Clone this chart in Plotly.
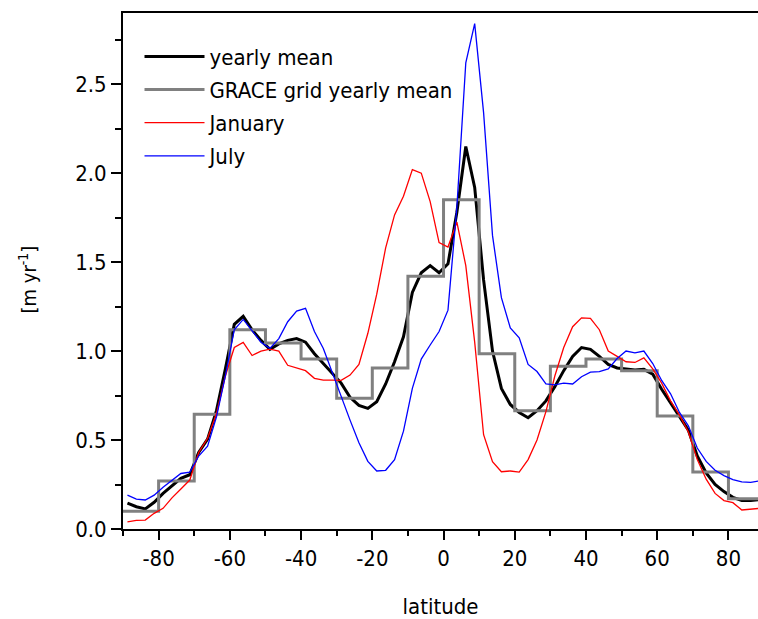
import numpy as np
import plotly.graph_objects as go

# Latitude bin centres (2.5 degree spacing)
latitude = [-88.75 + 2.5 * i for i in range(72)]

yearly_mean = [
    0.145, 0.125, 0.113, 0.15, 0.20, 0.245, 0.285, 0.305, 0.43, 0.505,
    0.665, 0.90, 1.15, 1.195, 1.12, 1.06, 1.01, 1.04, 1.06, 1.07,
    1.05, 0.985, 0.93, 0.87, 0.82, 0.74, 0.695, 0.678, 0.715, 0.815,
    0.94, 1.08, 1.33, 1.44, 1.48, 1.44, 1.49, 1.78, 2.15, 1.92,
    1.40, 1.00, 0.79, 0.70, 0.655, 0.625, 0.665, 0.72, 0.80, 0.89,
    0.97, 1.02, 1.01, 0.97, 0.925, 0.905, 0.90, 0.893, 0.897, 0.87,
    0.785, 0.71, 0.635, 0.555, 0.41, 0.315, 0.25, 0.21, 0.178, 0.16,
    0.16, 0.165,
]

january = [
    0.04, 0.048, 0.05, 0.088, 0.116, 0.175, 0.225, 0.275, 0.43, 0.51,
    0.65, 0.86, 1.02, 1.049, 0.975, 1.0, 1.011, 1.0, 0.92, 0.903,
    0.89, 0.847, 0.837, 0.837, 0.835, 0.865, 0.925, 1.10, 1.32, 1.58,
    1.765, 1.87, 2.02, 2.0, 1.84, 1.61, 1.585, 1.725, 1.48, 1.05,
    0.53, 0.378, 0.322, 0.326, 0.32, 0.39, 0.50, 0.66, 0.86, 1.02,
    1.137, 1.187, 1.184, 1.12, 1.0, 0.97, 0.94, 0.936, 0.962, 0.90,
    0.82, 0.72, 0.64, 0.545, 0.39, 0.28, 0.20, 0.16, 0.148, 0.107,
    0.11, 0.116,
]

july = [
    0.19, 0.168, 0.163, 0.19, 0.235, 0.275, 0.312, 0.32, 0.41, 0.465,
    0.63, 0.86, 1.12, 1.178, 1.115, 1.05, 1.015, 1.07, 1.165, 1.225,
    1.24, 1.11, 1.015, 0.88, 0.74, 0.612, 0.485, 0.38, 0.326, 0.33,
    0.39, 0.55, 0.79, 0.955, 1.034, 1.11, 1.23, 1.81, 2.62, 2.84,
    2.34, 1.65, 1.30, 1.13, 1.075, 0.925, 0.885, 0.815, 0.81, 0.82,
    0.815, 0.856, 0.882, 0.884, 0.90, 0.958, 1.0, 0.99, 1.0, 0.93,
    0.835, 0.76, 0.655, 0.58, 0.455, 0.38, 0.33, 0.30, 0.278, 0.265,
    0.262, 0.27,
]

# GRACE grid: 10 degree bands, edges and one value per band
grace_edges = [-90, -80, -70, -60, -50, -40, -30, -20, -10, 0,
               10, 20, 30, 40, 50, 60, 70, 80, 90]
grace_values = [0.10, 0.27, 0.645, 1.12, 1.045, 0.955, 0.735, 0.905, 1.42,
                1.85, 0.985, 0.665, 0.915, 0.955, 0.89, 0.635, 0.32, 0.17]

# Axis tick labels (plain hyphen for negatives)
x_tick_vals = [-80, -60, -40, -20, 0, 20, 40, 60, 80]
x_tick_labels = ["-80", "-60", "-40", "-20", "0", "20", "40", "60", "80"]
y_tick_vals = [0.0, 0.5, 1.0, 1.5, 2.0, 2.5]
y_tick_labels = ["0.0", "0.5", "1.0", "1.5", "2.0", "2.5"]

FONT = "DejaVu Sans Condensed, Liberation Sans Narrow, Arial Narrow, sans-serif"

fig = go.Figure()
fig.add_trace(go.Scatter(
    x=latitude, y=yearly_mean, mode="lines", name="yearly mean",
    line=dict(color="#000000", width=3), legendgroup="a",
))
fig.add_trace(go.Scatter(
    x=grace_edges, y=grace_values + [grace_values[-1]], mode="lines",
    name="GRACE grid yearly mean", line=dict(color="#808080", width=3, shape="hv"),
    legendgroup="b",
))
fig.add_trace(go.Scatter(
    x=latitude, y=january, mode="lines", name="January",
    line=dict(color="#ff0000", width=1.3), legendgroup="c",
))
fig.add_trace(go.Scatter(
    x=latitude, y=july, mode="lines", name="July",
    line=dict(color="#0000ff", width=1.3), legendgroup="d",
))

fig.update_layout(
    width=758, height=619,
    margin=dict(l=123, r=0, t=13, b=90),
    paper_bgcolor="white", plot_bgcolor="white",
    font=dict(family=FONT, size=22, color="#000000"),
    showlegend=True,
    legend=dict(
        x=0.026, y=0.956, xanchor="left", yanchor="top",
        bgcolor="rgba(0,0,0,0)", borderwidth=0,
        font=dict(size=22), itemwidth=60, tracegroupgap=1.5,
    ),
    xaxis=dict(
        range=[-90, 88.3], tickmode="array",
        tickvals=x_tick_vals, ticktext=x_tick_labels,
        ticks="outside", ticklen=9, tickwidth=2, tickcolor="#000000",
        showline=True, linewidth=2, linecolor="#000000", mirror=True,
        showgrid=False, zeroline=False,
        minor=dict(dtick=10, tick0=-90, ticks="outside", ticklen=5,
                   tickwidth=2, tickcolor="#000000"),
        title=dict(text="latitude", standoff=28, font=dict(size=22)),
    ),
    yaxis=dict(
        range=[0, 2.9], tickmode="array",
        tickvals=y_tick_vals, ticktext=y_tick_labels,
        ticks="outside", ticklen=10, tickwidth=2, tickcolor="#000000",
        showline=True, linewidth=2, linecolor="#000000",
        showgrid=False, zeroline=False,
        minor=dict(dtick=0.25, tick0=0, ticks="outside", ticklen=6,
                   tickwidth=2, tickcolor="#000000"),
    ),
    annotations=[dict(
        text="[m yr<sup>-1</sup>]", textangle=-90,
        xref="paper", yref="paper", x=-0.15, y=0.483,
        xanchor="center", yanchor="middle", showarrow=False,
        font=dict(size=20),
    )],
)

fig.write_html("out.html")
